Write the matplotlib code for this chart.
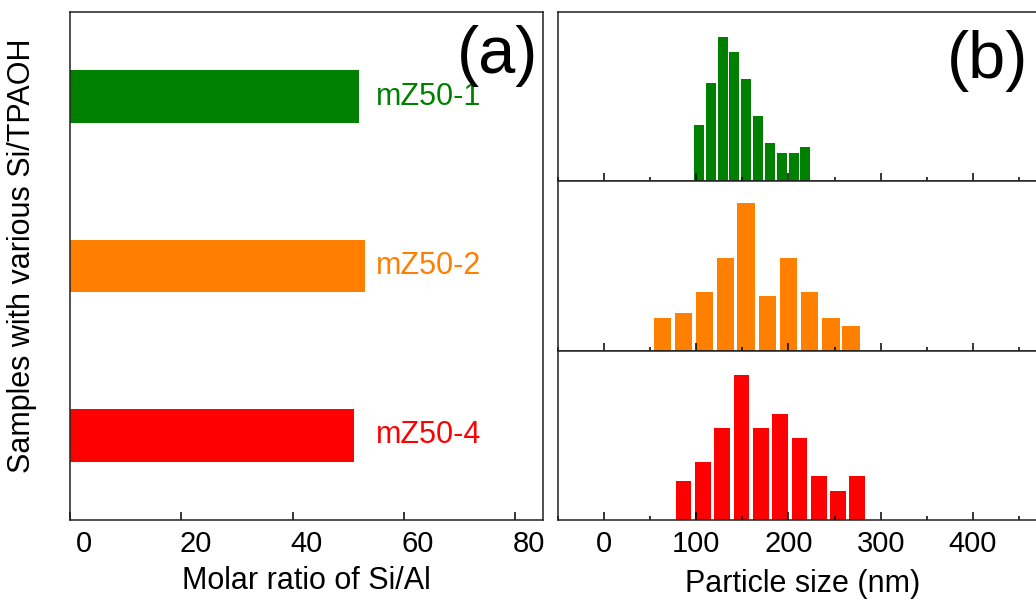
import matplotlib.pyplot as plt
from matplotlib.ticker import MultipleLocator
from matplotlib.transforms import ScaledTranslation

plt.rcParams["font.family"] = ["Liberation Sans", "DejaVu Sans"]

# panel (a): Si/Al molar ratio per sample
samples = ["mZ50-4", "mZ50-2", "mZ50-1"]
si_al = [51.0, 53.0, 52.0]
colors = ["#ff0000", "#ff8000", "#008000"]

# panel (b): particle size histograms (bin centres in nm, relative counts)
green_sizes = [103, 116, 129, 141, 154, 167, 180, 193, 206, 218]
green_counts = [6.7, 11.6, 17.1, 15.3, 12.1, 7.7, 4.5, 3.4, 3.4, 4.0]
orange_sizes = [63, 86, 109, 132, 154, 177, 200, 223, 246, 268]
orange_counts = [3.9, 4.5, 6.9, 10.9, 17.4, 6.4, 10.9, 6.9, 3.9, 2.9]
red_sizes = [86, 107, 128, 149, 170, 191, 212, 233, 254, 274]
red_counts = [4.6, 6.9, 10.9, 17.1, 10.9, 12.5, 9.7, 5.2, 3.4, 5.2]
size_ticks = [0, 100, 200, 300, 400]

W, H = 1036, 599
fig = plt.figure(figsize=(W / 100, H / 100), dpi=100)


def px_axes(x0, y0, x1, y1):
    # axes from pixel box (top-left origin)
    return fig.add_axes([x0 / W, 1 - y1 / H, (x1 - x0) / W, (y1 - y0) / H])


def style_frame(ax):
    for s in ax.spines.values():
        s.set_linewidth(1.1)
        s.set_color("#222222")


# ---- panel (a)
ax = px_axes(70, 12, 543, 520)
ypos = [1, 2, 3]
ax.barh(ypos, si_al, height=0.31, color=colors)
for y, name, c in zip(ypos, samples, colors):
    ax.text(54.9, y, name, color=c, fontsize=22, va="center", ha="left")
ax.set_xlim(0, 85)
ax.set_ylim(0.5, 3.5)
ax.set_xticks([0, 20, 40, 60, 80])
ax.set_yticks([])
ax.tick_params(axis="x", direction="in", length=6, width=1.1, labelsize=21, pad=7)
off = ScaledTranslation(0.14, 0, fig.dpi_scale_trans)
for lab in ax.get_xticklabels():
    lab.set_transform(lab.get_transform() + off)
ax.set_xlabel("Molar ratio of Si/Al", fontsize=22, labelpad=6)
ax.set_ylabel("Samples with various Si/TPAOH", fontsize=22)
ax.yaxis.set_label_coords(-0.07, 0.52)
ax.text(0.99, 0.975, "(a)", transform=ax.transAxes, fontsize=48, ha="right", va="top")
style_frame(ax)

# ---- panel (b)
hists = [
    (green_sizes, green_counts, "#008000", 10.5),
    (orange_sizes, orange_counts, "#ff8000", 18.8),
    (red_sizes, red_counts, "#ff0000", 17.0),
]
edges = [12, 181.3, 350.7, 520]
axes_b = []
for i, (xs, cs, c, bw) in enumerate(hists):
    axb = px_axes(558, edges[i], 1065, edges[i + 1])
    axb.bar(xs, cs, width=bw, color=c)
    axb.set_xlim(-50, 500)
    axb.set_ylim(0, 20)
    axb.set_yticks([])
    axb.set_xticks(size_ticks)
    axb.xaxis.set_minor_locator(MultipleLocator(50))
    axb.tick_params(axis="x", which="major", direction="in", length=6, width=1.1,
                    labelsize=21, pad=7)
    axb.tick_params(axis="x", which="minor", direction="in", length=3, width=1.1)
    if i < 2:
        axb.tick_params(axis="x", labelbottom=False)
    style_frame(axb)
    axes_b.append(axb)

axes_b[-1].set_xlabel("Particle size (nm)", fontsize=22)
axes_b[-1].xaxis.set_label_coords(0.483, -0.29)
axes_b[0].text(372, 14.2, "(b)", fontsize=48, ha="left", va="center")

fig.savefig("out.png", dpi=100)
